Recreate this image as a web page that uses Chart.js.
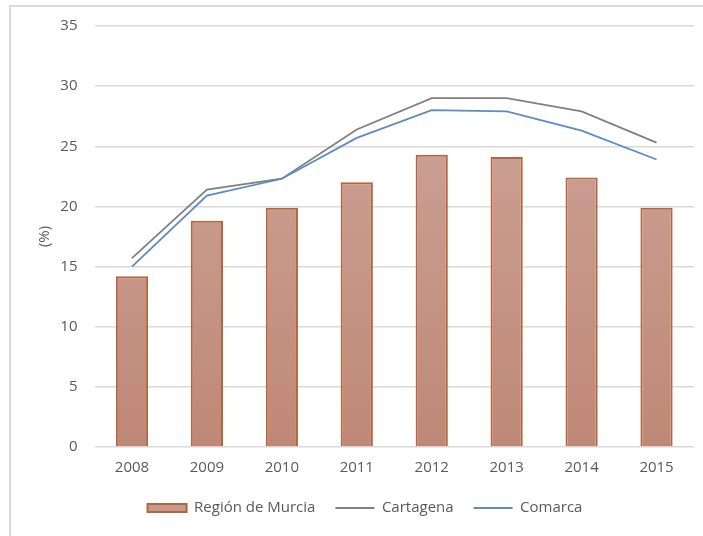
<!DOCTYPE html>
<html>
<head>
<meta charset="utf-8">
<script src="https://cdn.jsdelivr.net/npm/chart.js@4.4.1/dist/chart.umd.min.js"></script>
<style>
    html, body { margin: 0; padding: 0; background: #fff; overflow: hidden; }
    #wrap { position: relative; width: 703px; height: 536px; overflow: hidden; }
    #frame { position: absolute; left: 9px; top: 5px; width: 720px; height: 560px; border-left: 2px solid #dcdcdc; border-top: 2px solid #dcdcdc; }
    canvas { position: absolute; left: 0; top: 0; }
</style>
</head>
<body>
<div id="wrap">
    <div id="frame"></div>
    <canvas id="chart" width="703" height="536"></canvas>
</div>
<script>
// Data
const years = ['2008', '2009', '2010', '2011', '2012', '2013', '2014', '2015'];
const regionMurcia = [14.2, 18.8, 19.9, 22.0, 24.3, 24.1, 22.4, 19.9];
const cartagena = [15.7, 21.4, 22.3, 26.4, 29.0, 29.0, 27.9, 25.3];
const comarca = [15.0, 20.9, 22.3, 25.7, 28.0, 27.9, 26.3, 23.9];
const yTicks = [0, 5, 10, 15, 20, 25, 30, 35];

const textColor = '#595959';
const fontFamily = "'Open Sans', 'Noto Sans', sans-serif";

// Vertical gradient fill like the Excel bars
function barGradient(context) {
    const chart = context.chart;
    const area = chart.chartArea;
    if (!area) return '#c89a8c';
    const g = chart.ctx.createLinearGradient(0, area.top, 0, area.bottom);
    g.addColorStop(0, '#cfa89e');
    g.addColorStop(1, '#bf8876');
    return g;
}

const ctx = document.getElementById('chart').getContext('2d');

new Chart(ctx, {
    type: 'bar',
    data: {
        labels: years,
        datasets: [
            {
                type: 'bar',
                label: 'Región de Murcia',
                data: regionMurcia,
                backgroundColor: barGradient,
                borderColor: '#b3663d',
                borderWidth: 2,
                barPercentage: 0.43,
                categoryPercentage: 1,
                order: 2
            },
            {
                type: 'line',
                label: 'Cartagena',
                data: cartagena,
                borderColor: '#808080',
                borderWidth: 1.8,
                pointRadius: 0,
                tension: 0,
                fill: false,
                order: 1
            },
            {
                type: 'line',
                label: 'Comarca',
                data: comarca,
                borderColor: '#5b8cc4',
                borderWidth: 1.8,
                pointRadius: 0,
                tension: 0,
                fill: false,
                order: 0
            }
        ]
    },
    options: {
        responsive: false,
        animation: false,
        layout: {
            padding: { left: 36, right: 9, top: 25, bottom: 10.5 }
        },
        plugins: {
            tooltip: { enabled: false },
            legend: {
                position: 'bottom',
                labels: {
                    color: textColor,
                    font: { family: fontFamily, size: 15 },
                    boxWidth: 39,
                    boxHeight: 8,
                    padding: 20,
                    generateLabels: (chart) => chart.data.datasets.map((ds, i) => {
                        const isBar = ds.type === 'bar';
                        return {
                            text: ds.label,
                            fillStyle: isBar ? '#c89a8c' : ds.borderColor,
                            strokeStyle: isBar ? '#b3663d' : ds.borderColor,
                            lineWidth: isBar ? 2 : 1.8,
                            pointStyle: isBar ? 'rect' : 'line',
                            fontColor: textColor,
                            hidden: false,
                            datasetIndex: i
                        };
                    }),
                    usePointStyle: true,
                    pointStyleWidth: 39
                }
            }
        },
        scales: {
            x: {
                grid: { display: false, drawTicks: false },
                border: { display: false },
                ticks: {
                    color: textColor,
                    font: { family: fontFamily, size: 15 },
                    padding: 12,
                    maxRotation: 0
                },
                afterFit: (scale) => { scale.height = 33.5; }
            },
            y: {
                min: 0,
                max: 35,
                afterBuildTicks: (scale) => { scale.ticks = yTicks.map(v => ({ value: v })); },
                grid: { color: '#d9d9d9', lineWidth: 1.5, drawTicks: false },
                border: { display: false },
                ticks: {
                    color: textColor,
                    font: { family: fontFamily, size: 15 },
                    padding: 17
                },
                title: {
                    display: true,
                    text: '(%)',
                    color: textColor,
                    font: { family: fontFamily, size: 15 },
                    padding: { top: 0, bottom: 0 }
                },
                afterFit: (scale) => { scale.width = 58.5; }
            }
        }
    }
});
</script>
</body>
</html>
